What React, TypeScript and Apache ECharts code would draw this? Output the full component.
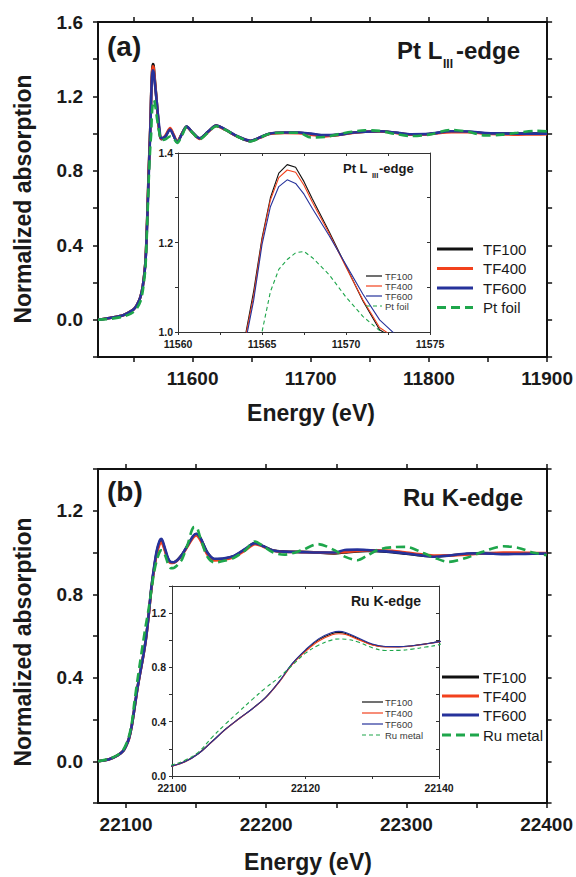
import React, { useEffect, useRef } from "react";
import * as echarts from "echarts";

// ---------------- DATA ----------------
const ptEnergy = [11520, 11530, 11540, 11545, 11550, 11553, 11556, 11558, 11560, 11561, 11562, 11563, 11564, 11564.5, 11565, 11565.5, 11566, 11566.5, 11567, 11567.5, 11568, 11569, 11570, 11571, 11572, 11573.5, 11577, 11581, 11584, 11587, 11591, 11595, 11600, 11606, 11613, 11620, 11628, 11638, 11649, 11657, 11665, 11678, 11690, 11700, 11712, 11724, 11735, 11746, 11758, 11772, 11785, 11800, 11819, 11833, 11848, 11862, 11875, 11890, 11900];
const ptTF100 = [0.0, 0.01, 0.022, 0.035, 0.055, 0.08, 0.125, 0.185, 0.3, 0.43, 0.62, 0.82, 0.99, 1.09, 1.21, 1.3, 1.355, 1.374, 1.368, 1.336, 1.297, 1.224, 1.147, 1.07, 1.005, 0.97, 0.985, 1.025, 0.99, 0.955, 1.0, 1.038, 1.005, 0.975, 1.01, 1.043, 1.02, 0.985, 0.96, 0.98, 1.0, 1.005, 1.005, 0.998, 0.99, 0.995, 1.005, 1.01, 1.013, 1.005, 0.996, 0.998, 1.012, 1.01, 1.002, 1.0, 1.0, 1.0, 1.0];
const ptTF400 = [0.0, 0.01, 0.022, 0.035, 0.055, 0.08, 0.125, 0.185, 0.3, 0.43, 0.615, 0.81, 0.985, 1.08, 1.205, 1.295, 1.345, 1.362, 1.357, 1.328, 1.29, 1.22, 1.145, 1.072, 1.01, 0.972, 0.99, 1.03, 0.995, 0.958, 1.0, 1.036, 1.005, 0.972, 1.008, 1.042, 1.02, 0.985, 0.962, 0.978, 0.998, 1.004, 1.003, 0.995, 0.985, 0.993, 1.004, 1.01, 1.012, 1.004, 0.995, 0.997, 1.008, 1.008, 1.0, 0.997, 0.995, 0.996, 0.997];
const ptTF600 = [0.0, 0.01, 0.022, 0.035, 0.055, 0.08, 0.125, 0.185, 0.295, 0.42, 0.6, 0.79, 0.975, 1.07, 1.195, 1.28, 1.325, 1.34, 1.332, 1.308, 1.276, 1.215, 1.15, 1.085, 1.027, 0.975, 0.985, 1.022, 0.99, 0.955, 0.998, 1.038, 1.007, 0.975, 1.01, 1.044, 1.022, 0.986, 0.962, 0.98, 1.0, 1.006, 1.006, 1.0, 0.992, 0.995, 1.005, 1.01, 1.013, 1.006, 0.997, 0.999, 1.013, 1.012, 1.003, 1.001, 1.0, 1.0, 1.0];
const ptFoil = [0.0, 0.005, 0.015, 0.025, 0.042, 0.062, 0.1, 0.16, 0.27, 0.4, 0.58, 0.76, 0.9, 0.955, 1.0, 1.09, 1.14, 1.162, 1.177, 1.18, 1.166, 1.128, 1.078, 1.035, 1.003, 0.965, 0.97, 0.985, 0.975, 0.95, 0.99, 1.035, 1.005, 0.97, 1.005, 1.04, 1.02, 0.985, 0.958, 0.978, 1.0, 1.005, 1.005, 0.98, 0.982, 0.998, 1.01, 1.018, 1.015, 0.998, 0.987, 0.995, 1.02, 1.01, 0.99, 0.995, 1.005, 1.015, 1.012];

const ruEnergy = [22080, 22088, 22094, 22098, 22100, 22102, 22104, 22106, 22108, 22110, 22112, 22114, 22116, 22118, 22120, 22122, 22124, 22125, 22126, 22128, 22130, 22132, 22134, 22136, 22138, 22140, 22144, 22148, 22150, 22153, 22158, 22163, 22170, 22177, 22185, 22192, 22198, 22205, 22213, 22225, 22237, 22249, 22256, 22265, 22272, 22280, 22290, 22300, 22312, 22320, 22330, 22343, 22355, 22369, 22380, 22390, 22400];
const ruTF100 = [0.0, 0.01, 0.028, 0.05, 0.074, 0.108, 0.168, 0.255, 0.345, 0.422, 0.495, 0.578, 0.692, 0.825, 0.925, 1.005, 1.05, 1.058, 1.05, 1.008, 0.968, 0.952, 0.952, 0.96, 0.974, 0.99, 1.035, 1.078, 1.088, 1.07, 1.0, 0.968, 0.97, 0.982, 1.015, 1.045, 1.03, 1.01, 1.005, 1.003, 1.0, 0.996, 1.0, 1.005, 1.007, 1.006, 1.002, 0.994, 0.985, 0.982, 0.985, 0.993, 0.997, 0.996, 0.995, 0.995, 0.995];
const ruTF400 = [0.0, 0.01, 0.028, 0.05, 0.072, 0.105, 0.165, 0.252, 0.342, 0.42, 0.493, 0.575, 0.688, 0.82, 0.918, 0.995, 1.04, 1.048, 1.042, 1.003, 0.965, 0.95, 0.951, 0.958, 0.972, 0.988, 1.03, 1.072, 1.082, 1.06, 0.99, 0.962, 0.965, 0.978, 1.01, 1.04, 1.028, 1.008, 1.003, 1.002, 1.0, 0.998, 1.003, 1.008, 1.01, 1.01, 1.008, 1.0, 0.99, 0.985, 0.986, 0.99, 0.995, 1.0, 1.0, 0.998, 0.997];
const ruTF600 = [0.0, 0.01, 0.028, 0.05, 0.073, 0.106, 0.166, 0.253, 0.343, 0.421, 0.494, 0.577, 0.692, 0.828, 0.93, 1.012, 1.058, 1.066, 1.058, 1.015, 0.972, 0.954, 0.953, 0.96, 0.973, 0.99, 1.035, 1.08, 1.09, 1.07, 1.0, 0.97, 0.972, 0.984, 1.017, 1.045, 1.03, 1.01, 1.004, 1.002, 1.0, 1.0, 1.012, 1.014, 1.012, 1.008, 1.003, 0.995, 0.985, 0.98, 0.985, 0.995, 0.996, 0.992, 0.993, 0.994, 0.995];
const ruMetal = [0.0, 0.012, 0.03, 0.055, 0.081, 0.118, 0.178, 0.285, 0.382, 0.473, 0.563, 0.648, 0.725, 0.815, 0.905, 0.965, 1.003, 1.01, 1.008, 0.985, 0.945, 0.925, 0.926, 0.935, 0.95, 0.968, 1.04, 1.12, 1.122, 1.07, 0.98, 0.952, 0.96, 0.975, 1.01, 1.053, 1.03, 1.0, 0.99, 1.01, 1.04, 1.01, 0.98, 0.963, 0.985, 1.014, 1.025, 1.027, 0.998, 0.975, 0.955, 0.975, 1.005, 1.03, 1.022, 1.0, 0.987];

const ptNames = ["TF100", "TF400", "TF600", "Pt foil"];
const ruNames = ["TF100", "TF400", "TF600", "Ru metal"];

// tick values
const ptMainXLabels = [11600, 11700, 11800, 11900];
const ptMainXTicks = [11550, 11600, 11650, 11700, 11750, 11800, 11850, 11900];
const ptMainYLabels = [0, 0.4, 0.8, 1.2, 1.6];
const ptMainYTicks = [-0.2, 0, 0.2, 0.4, 0.6, 0.8, 1.0, 1.2, 1.4, 1.6];
const ptInsetXLabels = [11560, 11565, 11570, 11575];
const ptInsetXTicks = [11560, 11562.5, 11565, 11567.5, 11570, 11572.5, 11575];
const ptInsetYLabels = [1.0, 1.2, 1.4];
const ptInsetYTicks = [1.0, 1.1, 1.2, 1.3, 1.4];
const ruMainXLabels = [22100, 22200, 22300, 22400];
const ruMainXTicks = [22100, 22150, 22200, 22250, 22300, 22350, 22400];
const ruMainYLabels = [0, 0.4, 0.8, 1.2];
const ruMainYTicks = [-0.2, 0, 0.2, 0.4, 0.6, 0.8, 1.0, 1.2, 1.4];
const ruInsetXLabels = [22100, 22120, 22140];
const ruInsetXTicks = [22100, 22110, 22120, 22130, 22140];
const ruInsetYLabels = [0, 0.4, 0.8, 1.2];
const ruInsetYTicks = [0, 0.2, 0.4, 0.6, 0.8, 1.0, 1.2, 1.4];

// ---------------- STYLE ----------------
const FONT = "'Liberation Sans', Arial, Helvetica, sans-serif";
const COLORS = ["#111111", "#f2411d", "#26329b", "#1ea64b"];
const TXT = "#1a1a1a";

function pairs(xs: number[], ys: number[]) {
  return xs.map((x, i) => [x, ys[i]]);
}

function xAx(gi: number, min: number, max: number, labels: number[], ticks: number[], big: boolean, pos: "bottom" | "top") {
  const color = big ? "#111" : "#333";
  return {
    type: "value", gridIndex: gi, min, max, position: pos,
    axisLine: { show: true, onZero: false, lineStyle: { color, width: big ? 2 : 1 } },
    axisTick: { show: true, inside: !big && pos === "top", length: big ? 5 : 3, customValues: ticks, lineStyle: { color, width: big ? 1.5 : 1 } },
    axisLabel: pos === "bottom"
      ? { show: true, customValues: labels, margin: big ? 12 : 6, fontSize: big ? 19 : 10.5, fontWeight: "bold", fontFamily: FONT, color: TXT, formatter: (v: number) => String(v) }
      : { show: false },
    splitLine: { show: false },
  };
}

function yAx(gi: number, min: number, max: number, labels: number[], ticks: number[], big: boolean, pos: "left" | "right", margin = 4) {
  const color = big ? "#111" : "#333";
  return {
    type: "value", gridIndex: gi, min, max, position: pos,
    axisLine: { show: true, onZero: false, lineStyle: { color, width: big ? 2 : 1 } },
    axisTick: { show: true, inside: !big && pos === "right", length: big ? 5 : 3, customValues: ticks, lineStyle: { color, width: big ? 1.5 : 1 } },
    axisLabel: pos === "left"
      ? { show: true, customValues: labels, margin: big ? 15 : margin, fontSize: big ? 19 : 10.5, fontWeight: "bold", fontFamily: FONT, color: TXT, formatter: (v: number) => v.toFixed(1) }
      : { show: false },
    splitLine: { show: false },
  };
}

function lineSeries(name: string, xs: number[], ys: number[], idx: number, axis: number, inset: boolean, smooth: number | boolean) {
  const dashed = idx === 3;
  return {
    type: "line", name, xAxisIndex: axis, yAxisIndex: axis,
    data: pairs(xs, ys), showSymbol: false, symbol: "none", smooth, silent: true, clip: true,
    z: 2 + idx,
    lineStyle: {
      color: COLORS[idx],
      width: inset ? 1.1 : 2.6,
      type: dashed ? (inset ? [4, 3] : [9, 5]) : "solid",
    },
    itemStyle: { color: COLORS[idx] },
  };
}

function text(x: number, y: number, t: string, size: number, weight: string, align = "left", rotation = 0, fill = TXT) {
  return {
    type: "text", x, y, rotation, z: 100,
    style: {
      text: t, fontSize: size, fontWeight: weight, fontFamily: FONT, fill,
      textAlign: align, textVerticalAlign: "middle", align, verticalAlign: "middle",
    },
  };
}

function legend(names: string[], x1: number, x2: number, tx: number, ys: number[], inset: boolean) {
  const els: any[] = [];
  names.forEach((n, i) => {
    els.push({
      type: "line", z: 100,
      shape: { x1, y1: ys[i], x2, y2: ys[i] },
      style: {
        stroke: COLORS[i], lineWidth: inset ? 1.2 : 3,
        lineDash: i === 3 ? (inset ? [4, 3] : [9, 5]) : null,
      },
    });
    els.push(text(tx, ys[i], n, inset ? 9.5 : 15, "normal", "left", 0, inset ? "#3a3a3a" : TXT));
  });
  return els;
}

export default function App() {
  const ref = useRef<HTMLDivElement>(null);
  useEffect(() => {
    document.body.style.margin = "0";
    if (!ref.current) return;
    const chart = echarts.init(ref.current, undefined, { renderer: "svg" });
    const ptSeries = [ptTF100, ptTF400, ptTF600, ptFoil];
    const ruSeries = [ruTF100, ruTF400, ruTF600, ruMetal];
    const series: any[] = [];
    ptSeries.forEach((ys, i) => series.push(lineSeries(ptNames[i], ptEnergy, ys, i, 0, false, 0.3)));
    ptSeries.forEach((ys, i) => series.push(lineSeries(ptNames[i] + " inset", ptEnergy, ys, i, 2, true, false)));
    ruSeries.forEach((ys, i) => series.push(lineSeries(ruNames[i], ruEnergy, ys, i, 4, false, 0.3)));
    ruSeries.forEach((ys, i) => series.push(lineSeries(ruNames[i] + " inset", ruEnergy, ys, i, 6, true, 0.4)));

    const graphic: any[] = [
      text(107, 46, "(a)", 28, "bold"),
      text(107, 491, "(b)", 28, "bold"),
      text(397, 50, "Pt L", 24, "bold"),
      text(443, 64, "III", 12, "bold"),
      text(456, 50, "-edge", 24, "bold"),
      text(403, 497, "Ru K-edge", 24, "bold"),
      text(343, 168, "Pt L", 13, "bold"),
      text(372, 175, "III", 7.5, "bold"),
      text(379, 168, "-edge", 13, "bold"),
      text(351, 601, "Ru K-edge", 14, "bold"),
      text(23, 199, "Normalized absorption", 23, "bold", "center", Math.PI / 2),
      text(23, 642, "Normalized absorption", 23, "bold", "center", Math.PI / 2),
      text(311, 413, "Energy (eV)", 23, "bold", "center"),
      text(308, 862, "Energy (eV)", 23, "bold", "center"),
      ...legend(ptNames, 437, 473, 483, [249, 268.5, 288, 307.5], false),
      ...legend(ruNames, 442, 479, 483, [677, 696, 715, 735], false),
      ...legend(ptNames, 366, 382, 385, [276, 286, 296, 306], true),
      ...legend(ruNames, 362, 383, 385, [702, 713, 724, 735], true),
    ];

    chart.setOption({
      animation: false,
      backgroundColor: "#ffffff",
      grid: [
        { left: 98, top: 22, width: 451, height: 335, containLabel: false },
        { left: 178, top: 153, width: 252, height: 179, containLabel: false },
        { left: 98, top: 469, width: 452, height: 334, containLabel: false },
        { left: 172, top: 586, width: 267, height: 190, containLabel: false },
      ],
      xAxis: [
        xAx(0, 11520, 11900, ptMainXLabels, ptMainXTicks, true, "bottom"),
        xAx(0, 11520, 11900, ptMainXLabels, ptMainXTicks, true, "top"),
        xAx(1, 11560, 11575, ptInsetXLabels, ptInsetXTicks, false, "bottom"),
        xAx(1, 11560, 11575, ptInsetXLabels, ptInsetXTicks, false, "top"),
        xAx(2, 22080, 22400, ruMainXLabels, ruMainXTicks, true, "bottom"),
        xAx(2, 22080, 22400, ruMainXLabels, ruMainXTicks, true, "top"),
        xAx(3, 22100, 22140, ruInsetXLabels, ruInsetXTicks, false, "bottom"),
        xAx(3, 22100, 22140, ruInsetXLabels, ruInsetXTicks, false, "top"),
      ],
      yAxis: [
        yAx(0, -0.2, 1.6, ptMainYLabels, ptMainYTicks, true, "left"),
        yAx(0, -0.2, 1.6, ptMainYLabels, ptMainYTicks, true, "right"),
        yAx(1, 1.0, 1.4, ptInsetYLabels, ptInsetYTicks, false, "left", 5),
        yAx(1, 1.0, 1.4, ptInsetYLabels, ptInsetYTicks, false, "right"),
        yAx(2, -0.2, 1.4, ruMainYLabels, ruMainYTicks, true, "left"),
        yAx(2, -0.2, 1.4, ruMainYLabels, ruMainYTicks, true, "right"),
        yAx(3, 0, 1.4, ruInsetYLabels, ruInsetYTicks, false, "left", 6),
        yAx(3, 0, 1.4, ruInsetYLabels, ruInsetYTicks, false, "right"),
      ],
      series,
      graphic,
    });
    return () => chart.dispose();
  }, []);
  return <div ref={ref} style={{ width: 576, height: 877 }} />;
}
